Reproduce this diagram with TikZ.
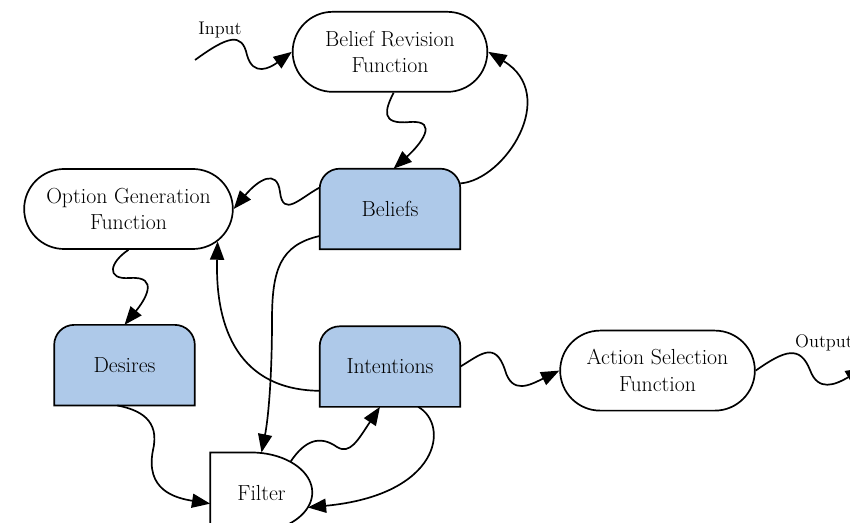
\documentclass[tikz,border=0pt]{standalone}
\usepackage{xcolor}
\usepackage{tikz}
\usetikzlibrary{positioning, shapes.misc, arrows.meta, backgrounds}
\definecolor{storefill}{RGB}{174, 201, 233}

\begin{document}
\begin{tikzpicture}[x=0.025cm, y=-0.025cm,
        func/.style={rounded rectangle, draw=black, line width=1.2pt, fill=white, minimum width=#1, minimum height=2cm, align=center, font=\fontsize{15.5}{19}\selectfont},
        store/.style={rectangle, minimum width=3.5cm, minimum height=2cm, font=\fontsize{15.5}{19}\selectfont},
        gate/.style={rectangle, minimum width=2.55cm, minimum height=2cm, font=\fontsize{15.5}{19}\selectfont},
        flow/.style={-{Triangle[length=13pt, width=10pt]}, line width=1.2pt},
        tag/.style={font=\fontsize{13}{15}\selectfont}
    ]
        \clip (0,0) rectangle (850,523);

        \node (bel) [store] at (390,209) {Beliefs};
        \node (bre) [func=5.1cm, above=1.9cm of bel] {Belief Revision\\Function};
        \node (ogf) [func=5.45cm, left=2.15cm of bel] {Option Generation\\Function};
        \node (int) [store, below=1.925cm of bel] {Intentions};
        \node (des) [store, below=1.875cm of ogf, xshift=-0.1cm] {Desires};
        \node (asf) [func=5.1cm, right=2.475cm of int, yshift=-0.1cm] {Action Selection\\Function};
        \node (filt) [gate, below=1.175cm of des, xshift=3.425cm] {Filter};

        \coordinate (in) at (195,60);
        \coordinate (out) at (864,368);
        \node (inlbl) [tag] at (220,30) {Input};
        \node (outlbl) [tag] at (824,343) {Output};

        % stores: rounded on top, square below
        \begin{scope}[on background layer]
            \foreach \n in {bel, des, int}
                \draw[line width=1.2pt, fill=storefill] (\n.south west) [rounded corners=0.5cm] -- (\n.north west) -- (\n.north east) [sharp corners] -- (\n.south east) -- cycle;
        \end{scope}

        % filter gate
        \draw[line width=1.2pt] (filt.south west) -- (filt.north west) -- ++(1.025cm,0)
            arc[start angle=90, end angle=50, x radius=1.525cm, y radius=1cm] coordinate (ftop)
            arc[start angle=50, end angle=-22, x radius=1.525cm, y radius=1cm] coordinate (fside)
            arc[start angle=-22, end angle=-90, x radius=1.525cm, y radius=1cm] -- cycle;

        \draw[flow] (in) .. controls (228,36) and (242,32) .. (247,55) .. controls (253,77) and (270,68) .. (bre.west);
        \draw[flow] (bre.-85) .. controls (385,110) and (380,125) .. (410,122) .. controls (440,120) and (420,145) .. (bel.85);
        \draw[flow] (bel.20) .. controls (505,180) and (560,95) .. (bre.east);
        \draw[flow] (bel.163) .. controls (300,198) and (283,218) .. (280,192) .. controls (277,168) and (258,180) .. (ogf.east);
        \draw[flow] (bel.201) .. controls (280,245) and (272,270) .. (272,320) .. controls (272,380) and (268,420) .. (filt.north);
        \draw[flow] (ogf.south) .. controls (110,262) and (105,280) .. (130,278) .. controls (160,276) and (145,300) .. (des.north);
        \draw[flow] (int.199) .. controls (240,390) and (215,330) .. (ogf.-20);
        \draw[flow] (des.-100) .. controls (140,410) and (160,420) .. (153,450) .. controls (145,490) and (175,498) .. (filt.192);
        \draw[flow] (ftop) .. controls (305,440) and (320,435) .. (337,447) .. controls (350,455) and (358,440) .. (int.-104);
        \draw[flow] (int.-55) .. controls (450,425) and (440,495) .. (fside);
        \draw[flow] (int.east) .. controls (480,355) and (495,340) .. (505,370) .. controls (512,395) and (530,385) .. (asf.west);
        \draw[flow] (asf.east) .. controls (785,350) and (800,345) .. (810,370) .. controls (818,392) and (835,385) .. (out);
    \end{tikzpicture}
\end{document}
